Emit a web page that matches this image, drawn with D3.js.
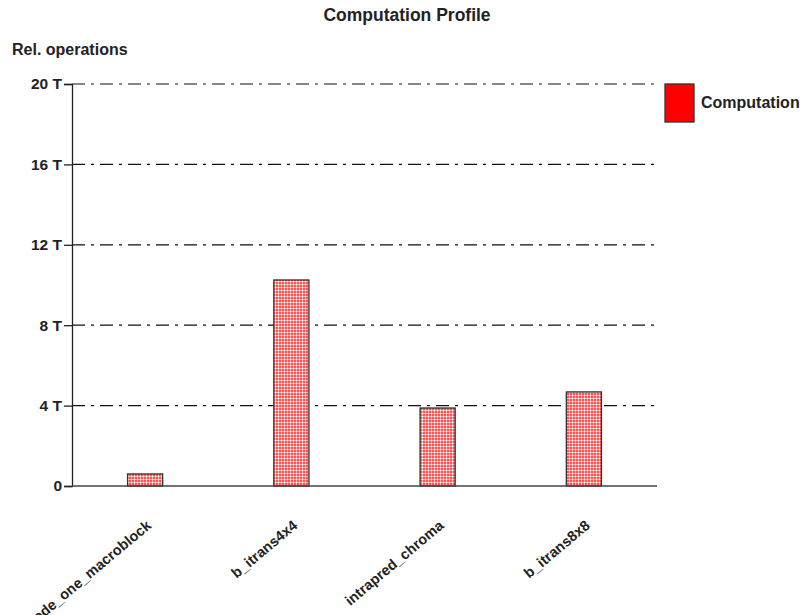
<!DOCTYPE html>
<html>
<head>
<meta charset="utf-8">
<script src="https://cdn.jsdelivr.net/npm/d3@7"></script>
<style>
  body { margin: 0; background: #fff; }
  text { font-family: "Liberation Sans", Arial, sans-serif; font-weight: bold; fill: #222; }
</style>
</head>
<body>
<div id="chart"></div>
<script>
// data (units of T)
const kernels = ["decode_one_macroblock", "b_itrans4x4", "intrapred_chroma", "b_itrans8x8"];
const computation = [0.6, 10.25, 3.88, 4.68];
const yTicks = [0, 4, 8, 12, 16, 20];

const width = 807, height = 615;
const margin = { top: 84, right: 150, bottom: 129, left: 72 };

const svg = d3.select("#chart").append("svg")
  .attr("width", width)
  .attr("height", height);

// dithered red fill like the original (3px grid of pink and white)
const defs = svg.append("defs");
const pat = defs.append("pattern")
  .attr("id", "dither")
  .attr("width", 3).attr("height", 3)
  .attr("patternUnits", "userSpaceOnUse");
pat.append("rect").attr("width", 3).attr("height", 3).attr("fill", "#ff5252");
pat.append("rect").attr("x", 2).attr("y", 0).attr("width", 1).attr("height", 3).attr("fill", "#ffb4b4");
pat.append("rect").attr("x", 0).attr("y", 2).attr("width", 3).attr("height", 1).attr("fill", "#ffb4b4");
pat.append("rect").attr("x", 2).attr("y", 2).attr("width", 1).attr("height", 1).attr("fill", "#ffffff");
pat.selectAll("rect").attr("shape-rendering", "crispEdges");

const x = d3.scaleBand()
  .domain(kernels)
  .range([margin.left, width - margin.right])
  .paddingInner(0.76)
  .paddingOuter(0.38);

const y = d3.scaleLinear()
  .domain([0, 20])
  .range([height - margin.bottom, margin.top]);

// title
svg.append("text")
  .attr("x", 407).attr("y", 21)
  .attr("text-anchor", "middle")
  .style("font-size", "17.5px")
  .text("Computation Profile");

svg.append("text")
  .attr("x", 12).attr("y", 55)
  .style("font-size", "16px")
  .text("Rel. operations");

// grid lines, dash-dot
svg.append("g")
  .selectAll("line")
  .data(yTicks.filter(d => d > 0))
  .enter().append("line")
  .attr("x1", margin.left).attr("x2", width - margin.right)
  .attr("y1", d => y(d)).attr("y2", d => y(d))
  .attr("stroke", "#111")
  .attr("stroke-width", 1.2)
  .attr("stroke-dasharray", "13,6,3,6");

// y axis
const yAxis = svg.append("g")
  .attr("transform", `translate(${margin.left},0)`)
  .call(d3.axisLeft(y).tickValues(yTicks).tickSize(8).tickFormat(d => d === 0 ? "0" : d + " T"));
yAxis.select(".domain").attr("stroke", "#222").attr("stroke-width", 1.3);
yAxis.selectAll(".tick line").attr("stroke", "#222").attr("stroke-width", 1.3);
yAxis.selectAll(".tick text")
  .attr("x", -10)
  .style("font-size", "15.5px")
  .style("font-family", "Liberation Sans, Arial, sans-serif")
  .style("font-weight", "bold")
  .attr("fill", "#222");

// bars
svg.append("g")
  .selectAll("rect")
  .data(kernels)
  .enter().append("rect")
  .attr("x", d => x(d))
  .attr("y", (d, i) => y(computation[i]))
  .attr("width", x.bandwidth())
  .attr("height", (d, i) => y(0) - y(computation[i]))
  .attr("fill", "url(#dither)")
  .attr("stroke", "#333")
  .attr("stroke-width", 1.3);

// x axis line
svg.append("line")
  .attr("x1", margin.left).attr("x2", width - margin.right)
  .attr("y1", y(0)).attr("y2", y(0))
  .attr("stroke", "#444")
  .attr("stroke-width", 1.5);

// rotated category labels
svg.append("g")
  .selectAll("text")
  .data(kernels)
  .enter().append("text")
  .attr("transform", d => `translate(${x(d) + x.bandwidth() / 2 + 7},${y(0) + 41}) rotate(-40)`)
  .attr("text-anchor", "end")
  .style("font-size", "14.5px")
  .text(d => d);

// legend
svg.append("rect")
  .attr("x", 665).attr("y", 84)
  .attr("width", 29).attr("height", 38)
  .attr("fill", "#ff0000")
  .attr("stroke", "#333")
  .attr("stroke-width", 1.3);
svg.append("text")
  .attr("x", 701).attr("y", 108)
  .style("font-size", "16px")
  .text("Computation");
</script>
</body>
</html>
